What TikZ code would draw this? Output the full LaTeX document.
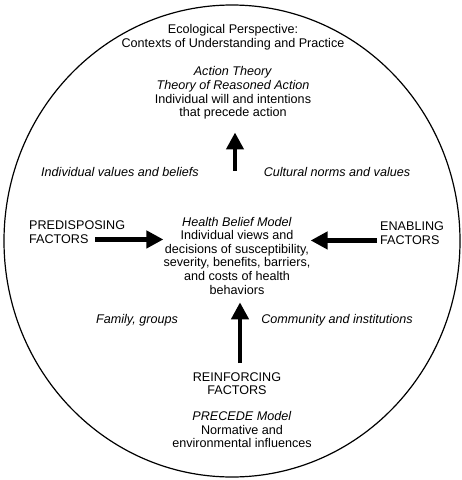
\documentclass[tikz,border=0pt]{standalone}
\usepackage{fontspec}
\setmainfont{Liberation Sans}
\usetikzlibrary{arrows.meta}

\begin{document}
\begin{tikzpicture}[x=1pt, y=-1pt]
		\tikzstyle{txt} = [inner sep=0pt, align=center, font=\fontsize{12.6}{13.6}\selectfont]
		\tikzstyle{itxt} = [txt, font=\fontsize{12.6}{13.6}\selectfont\itshape]
		\tikzstyle{arrow} = [line width=4.5pt, -{Triangle[length=17pt,width=17pt]}]
		
		\useasboundingbox (0,0) rectangle (462,480);
		\draw [line width=1.2pt, black] (232,241) ellipse [x radius=228pt, y radius=236pt];
		
		\node (title) [txt] at (233,37) {Ecological Perspective:\\Contexts of Understanding and Practice};
		\node (action) [txt] at (233,93) {\textit{Action Theory}\\\textit{Theory of Reasoned Action}\\Individual will and intentions\\that precede action};
		\node (values) [itxt] at (120,172) {Individual values and beliefs};
		\node (norms) [itxt] at (337,172) {Cultural norms and values};
		\node (predis) [txt, align=left, anchor=west] at (29,232) {PREDISPOSING\\FACTORS};
		\node (hbm) [txt] at (237,255.5) {\textit{Health Belief Model}\\Individual views and\\decisions of susceptibility,\\severity, benefits, barriers,\\and costs of health\\behaviors};
		\node (enab) [txt, align=left, anchor=west] at (380,233) {ENABLING\\FACTORS};
		\node (family) [itxt] at (137,320) {Family, groups};
		\node (community) [itxt] at (337,320) {Community and institutions};
		\node (reinf) [txt] at (237,383.5) {REINFORCING\\FACTORS};
		\node (precede) [txt] at (242,429.5) {\textit{PRECEDE Model}\\Normative and\\environmental influences};
		
		\draw [arrow, shorten <=46pt, shorten >=13pt] ([xshift=-2pt]hbm.north) -- ([xshift=-2pt]hbm.north |- action.south);
		\draw [arrow] ([shift={(66pt,4pt)}]predis.south west) coordinate (pstart) -- (pstart -| hbm.west);
		\draw [arrow] ([shift={(-3pt,4pt)}]enab.south west) coordinate (estart) -- (estart -| hbm.east);
		\draw [arrow, shorten <=9pt, shorten >=8pt] ([xshift=3pt]reinf.north) -- ([xshift=3pt]reinf.north |- hbm.south);
\end{tikzpicture}
\end{document}
